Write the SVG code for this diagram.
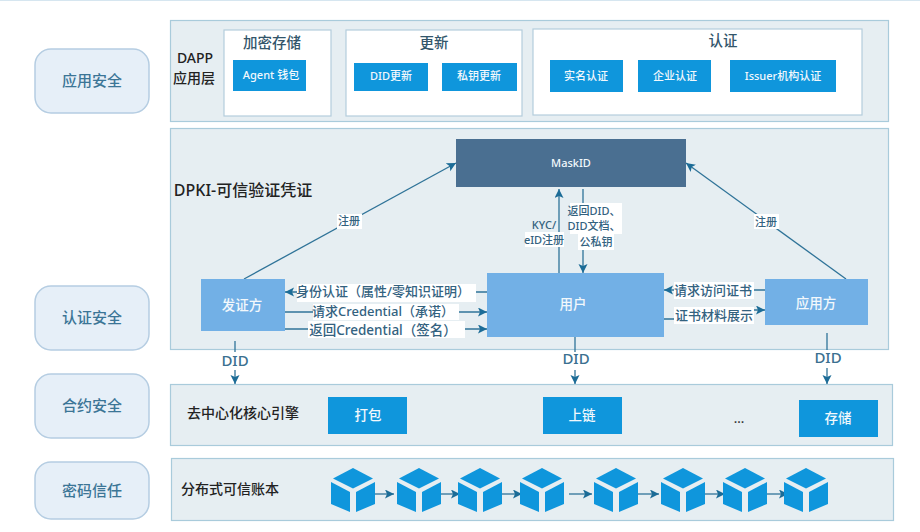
<svg xmlns="http://www.w3.org/2000/svg" width="920" height="532" viewBox="0 0 920 532">
<style>
text{font-family:"Noto Sans","Noto Sans CJK SC",sans-serif;text-anchor:middle}
.pill{fill:#e6eff8;stroke:#b5cde2;stroke-width:1.5}
.pt{font-size:15px;fill:#3b7596;font-weight:500}
.layer{fill:#e6eef2;stroke:#a9cbdb;stroke-width:1.2}
.panel{fill:#fff;stroke:#b4cddc;stroke-width:1.2}
.blue{fill:#0f96dc}
.light{fill:#72b0e6}
.wt{fill:#f2f8fc;font-size:11px;font-weight:500}
.wl{fill:#f2f8fc;font-size:13.500px;font-weight:500}
.head{fill:#33566b;font-size:14.500px;font-weight:500}
.dark{fill:#222;font-size:14px;font-weight:500}
.title{fill:#222;font-size:16px;font-weight:500}
.lab{fill:#33627f;font-size:11px;font-weight:500}
.lab2{fill:#33627f;font-size:13px;font-weight:500}
.lab3{fill:#33627f;font-size:13.500px;font-weight:500}
.did{fill:#3b7090;font-size:15px;font-weight:500}
.bg{fill:#fff}
.c{fill:none;stroke:#2f7398;stroke-width:1.3;marker-end:url(#a)}
</style>
<defs>
<marker id="a" markerUnits="userSpaceOnUse" markerWidth="11" markerHeight="10" refX="9" refY="4.500" orient="auto"><path d="M0 0L9 4.500L0 9L2 4.500Z" fill="#1c6c97"/></marker>
<g id="cube" fill="#0f96dc"><path d="M0 0L20 10.500L0 20.500L-20 10.500Z"/><path d="M-22 14L-3 24V44L-22 36Z"/><path d="M22 14L3 24V44L22 36Z"/></g>
</defs>
<rect width="920" height="532" fill="#fff"/>
<rect width="920" height="1" fill="#d6e6f0"/>

<g id="side-app"><rect class="pill" x="35" y="49" width="114" height="64" rx="16"/><text class="pt" x="92" y="86">应用安全</text></g>
<g id="side-auth"><rect class="pill" x="35" y="286" width="114" height="64" rx="16"/><text class="pt" x="92" y="323">认证安全</text></g>
<g id="side-contract"><rect class="pill" x="35" y="374" width="114" height="64" rx="16"/><text class="pt" x="92" y="411">合约安全</text></g>
<g id="side-crypto"><rect class="pill" x="35" y="462" width="114" height="57" rx="16"/><text class="pt" x="92" y="496">密码信任</text></g>

<g id="layer-dapp"><rect class="layer" x="170.500" y="20.500" width="718" height="101"/><text class="dark" x="195" y="63">DAPP</text><text class="dark" x="194" y="83">应用层</text></g>
<g id="layer-dpki"><rect class="layer" x="170.500" y="128.500" width="718" height="221"/><text class="title" x="243" y="196">DPKI-可信验证凭证</text></g>
<g id="layer-engine"><rect class="layer" x="170.500" y="384.500" width="722" height="61"/><text class="dark" x="243" y="418">去中心化核心引擎</text></g>
<g id="layer-ledger"><rect class="layer" x="171.500" y="458.500" width="722" height="62"/><text class="dark" x="230" y="494">分布式可信账本</text></g>

<g id="panel-storage"><rect class="panel" x="224" y="30" width="107" height="86"/><text class="head" x="272" y="48">加密存储</text></g>
<g id="panel-update"><rect class="panel" x="346" y="30" width="176" height="86"/><text class="head" x="434" y="48">更新</text></g>
<g id="panel-auth"><rect class="panel" x="533" y="29" width="329" height="86"/><text class="head" x="723" y="46">认证</text></g>

<g id="node-agent"><rect class="blue" x="233" y="60" width="73" height="31"/><text class="wt" x="271" y="79">Agent 钱包</text></g>
<g id="node-did-update"><rect class="blue" x="354" y="63" width="74" height="28"/><text class="wt" x="391" y="80">DID更新</text></g>
<g id="node-key-update"><rect class="blue" x="442" y="63" width="75" height="28"/><text class="wt" x="479" y="80">私钥更新</text></g>
<g id="node-realname"><rect class="blue" x="550" y="60" width="73" height="32"/><text class="wt" x="586" y="80">实名认证</text></g>
<g id="node-enterprise"><rect class="blue" x="638" y="60" width="73" height="32"/><text class="wt" x="675" y="80">企业认证</text></g>
<g id="node-issuer-auth"><rect class="blue" x="730" y="60" width="106" height="32"/><text class="wt" x="783" y="80">Issuer机构认证</text></g>

<g id="connectors">
<path class="c" d="M244 279L456 163"/>
<path class="c" d="M846 279L686 163"/>
<path class="c" d="M559 273V189"/>
<path class="c" d="M583 189V273"/>
<path class="c" d="M487 292H285"/>
<path class="c" d="M285 312H487"/>
<path class="c" d="M285 329H487"/>
<path class="c" d="M765 290H664"/>
<path class="c" d="M664 319H674L680 310H765"/>
<path class="c" d="M235 341V384"/>
<path class="c" d="M575 337V384"/>
<path class="c" d="M827 333V384"/>
<path class="c" d="M375 494H394"/>
<path class="c" d="M441 494H460"/>
<path class="c" d="M502 494H522"/>
<path class="c" d="M569 494H592"/>
<path class="c" d="M638 494H659"/>
<path class="c" d="M705 494H725"/>
<path class="c" d="M767 494H788"/>
</g>

<g id="labels">
<rect class="bg" x="337" y="214" width="25" height="15"/><text class="lab" x="349" y="225">注册</text>
<rect class="bg" x="754" y="214" width="25" height="15"/><text class="lab" x="766" y="226">注册</text>
<rect class="bg" x="525" y="232" width="39" height="15"/><text class="lab" x="544" y="229">KYC/</text><text class="lab" x="544" y="244">eID注册</text>
<rect class="bg" x="570" y="203" width="52" height="31"/><rect class="bg" x="578" y="234" width="36" height="16"/><text class="lab" x="594" y="215">返回DID、</text><text class="lab" x="594" y="230">DID文档、</text><text class="lab" x="596" y="246">公私钥</text>
<rect class="bg" x="297" y="284" width="179" height="18"/><text class="lab2" x="383" y="296">身份认证（属性/零知识证明）</text>
<rect class="bg" x="313" y="304" width="146" height="16"/><text class="lab2" x="383" y="315.500">请求Credential（承诺）</text>
<rect class="bg" x="308" y="321" width="157" height="17"/><text class="lab3" x="383" y="334.500">返回Credential（签名）</text>
<rect class="bg" x="674" y="282" width="80" height="17"/><text class="lab2" x="713" y="295">请求访问证书</text>
<rect class="bg" x="674" y="307" width="80" height="17"/><text class="lab2" x="714" y="320">证书材料展示</text>
<rect class="bg" x="222" y="352" width="28" height="18"/><text class="did" x="235" y="366">DID</text>
<rect class="bg" x="562" y="352" width="28" height="18"/><text class="did" x="576" y="364">DID</text>
<rect class="bg" x="814" y="350" width="28" height="18"/><text class="did" x="828" y="363">DID</text>
</g>

<g id="node-maskid"><rect x="456" y="139" width="230" height="48" fill="#4a6f91"/><text class="wt" x="571" y="167">MaskID</text></g>
<g id="node-issuer"><rect class="light" x="201" y="279" width="84" height="52"/><text class="wl" x="242" y="310">发证方</text></g>
<g id="node-user"><rect class="light" x="487" y="273" width="177" height="64"/><text class="wl" x="573" y="309">用户</text></g>
<g id="node-app"><rect class="light" x="765" y="279" width="103" height="46"/><text class="wl" x="816" y="308">应用方</text></g>
<g id="node-pack"><rect class="blue" x="328" y="397" width="79" height="37"/><text class="wl" x="368" y="420">打包</text></g>
<g id="node-chain"><rect class="blue" x="543" y="397" width="79" height="37"/><text class="wl" x="582" y="420">上链</text></g>
<g id="node-dots"><text x="739" y="423" fill="#333" style="font-size:13px;font-weight:500">...</text></g>
<g id="node-store"><rect class="blue" x="799" y="400" width="79" height="37"/><text class="wl" x="838" y="423">存储</text></g>

<g id="ledger-blocks">
<use href="#cube" x="353" y="468"/>
<use href="#cube" x="419" y="468"/>
<use href="#cube" x="480" y="468"/>
<use href="#cube" x="542" y="468"/>
<use href="#cube" x="616" y="468"/>
<use href="#cube" x="683" y="468"/>
<use href="#cube" x="745" y="468"/>
<use href="#cube" x="806" y="468"/>
</g>
</svg>
